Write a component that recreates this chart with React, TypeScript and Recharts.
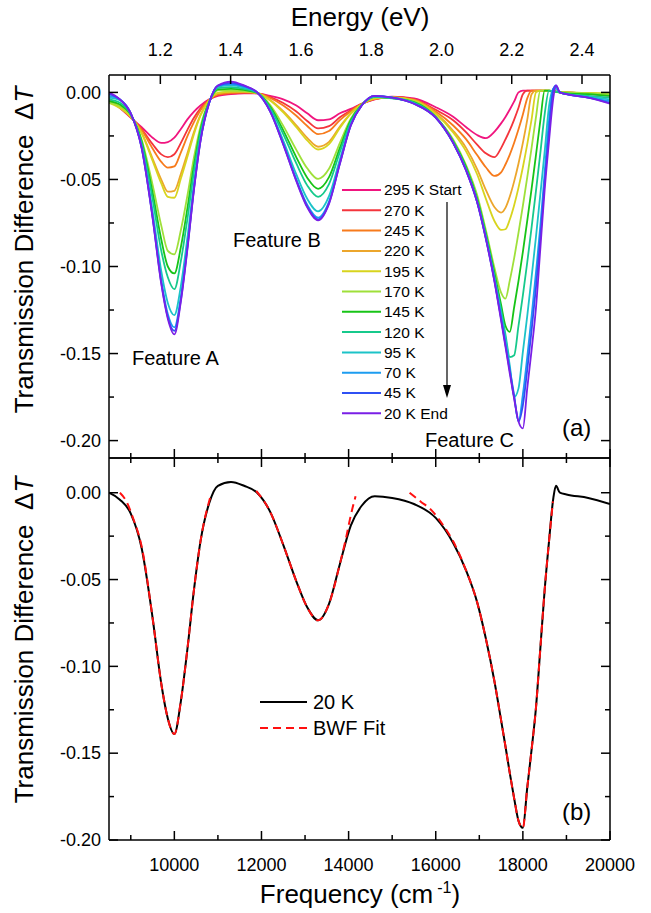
import React from 'react';
import { LineChart, Line, XAxis, YAxis } from 'recharts';

// frequency grid (cm^-1) shared by all temperature curves
const frequency = [
  8500, 8750, 9000, 9250, 9500, 9700, 9850, 10000, 10150, 10300, 10450, 10600, 10800, 11000,
  11300, 11600, 11900,
  12200, 12500, 12800, 13050, 13300, 13550, 13800, 14050, 14300, 14600,
  15000, 15500,
  16000, 16400, 16700, 16950, 17150, 17350, 17500, 17600, 17700, 17800, 17900, 18000, 18100,
  18200, 18300, 18400, 18500, 18600, 18700, 18760, 18850, 19000, 19500, 20000,
];

const dT295 = [
  -0.004, -0.009, -0.0145, -0.02, -0.026, -0.029, -0.0285, -0.026, -0.021, -0.0155, -0.011, -0.0075, -0.004, -0.002,
  -0.001, -0.0005, -0.0005,
  -0.002, -0.004, -0.0075, -0.012, -0.016, -0.0155, -0.012, -0.0095, -0.0065, -0.004,
  -0.0025, -0.0035,
  -0.0085, -0.014, -0.02, -0.0245, -0.0263, -0.0225, -0.0178, -0.0141, -0.0098, -0.0052, 0.0, 0.001, 0.001,
  0.001, 0.001, 0.001, 0.0008, 0.0008, 0.0005, 0.0005, 0.0, 0.0, -0.001, -0.002,
];
const dT270 = [
  -0.0037, -0.0086, -0.0143, -0.021, -0.0297, -0.0356, -0.0372, -0.0355, -0.029, -0.0215, -0.0146, -0.0092, -0.0042, -0.0015,
  -0.0006, -0.0003, -0.0005,
  -0.0027, -0.0061, -0.011, -0.0164, -0.0207, -0.0194, -0.0143, -0.0103, -0.0066, -0.0038,
  -0.0026, -0.004,
  -0.01, -0.016, -0.023, -0.03, -0.035, -0.0372, -0.032, -0.027, -0.0217, -0.0156, -0.0088, -0.001, 0.001,
  0.001, 0.001, 0.001, 0.001, 0.0008, 0.0008, 0.0005, 0.0003, 0.0, -0.0007, -0.0015,
];
const dT245 = [
  -0.0035, -0.0083, -0.0142, -0.0216, -0.0322, -0.0399, -0.0432, -0.0425, -0.0344, -0.0251, -0.0171, -0.0103, -0.0043, -0.0012,
  -0.0002, 0.0, -0.0004,
  -0.0032, -0.0075, -0.0134, -0.0193, -0.024, -0.0222, -0.0159, -0.0108, -0.0066, -0.0037,
  -0.0027, -0.0042,
  -0.011, -0.019, -0.027, -0.036, -0.043, -0.048, -0.0459, -0.0414, -0.0357, -0.0289, -0.0212, -0.0127, -0.0034,
  0.001, 0.001, 0.001, 0.001, 0.001, 0.0008, 0.0005, 0.0003, 0.0, -0.0005, -0.001,
];
const dT220 = [
  -0.005, -0.0085, -0.0139, -0.0231, -0.038, -0.0501, -0.057, -0.0565, -0.0468, -0.0349, -0.0227, -0.0129, -0.0045, -0.0004,
  0.0003, 0.0004, -0.0004,
  -0.0043, -0.0108, -0.0189, -0.0261, -0.0312, -0.0284, -0.0196, -0.012, -0.0068, -0.0035,
  -0.0028, -0.0045,
  -0.012, -0.022, -0.032, -0.044, -0.056, -0.066, -0.069, -0.0663, -0.0598, -0.0511, -0.0408, -0.029, -0.0158,
  -0.0011, 0.001, 0.001, 0.001, 0.001, 0.0008, 0.0005, 0.0003, 0.0, -0.0005, -0.001,
];
const dT195 = [
  -0.006, -0.009, -0.014, -0.0235, -0.0392, -0.0523, -0.06, -0.0605, -0.0495, -0.037, -0.024, -0.0134, -0.0046, -0.0003,
  0.0004, 0.0005, -0.0004,
  -0.0046, -0.0115, -0.02, -0.0276, -0.0328, -0.0297, -0.0204, -0.0122, -0.0068, -0.0034,
  -0.0029, -0.0047,
  -0.0125, -0.023, -0.034, -0.047, -0.061, -0.074, -0.079, -0.0786, -0.073, -0.0648, -0.0547, -0.043, -0.0299,
  -0.0155, 0.0, 0.001, 0.001, 0.001, 0.0008, 0.0005, 0.0003, 0.0, -0.0003, -0.0005,
];
const dT170 = [
  -0.006, -0.008, -0.013, -0.027, -0.053, -0.0765, -0.091, -0.093, -0.079, -0.0592, -0.0374, -0.0195, -0.0052, 0.0012,
  0.001, 0.0008, -0.0003,
  -0.0073, -0.0192, -0.033, -0.0436, -0.0497, -0.0439, -0.029, -0.0151, -0.0071, -0.0028,
  -0.0032, -0.0052,
  -0.014, -0.027, -0.042, -0.059, -0.079, -0.101, -0.115, -0.1185, -0.108, -0.0952, -0.0806, -0.0651, -0.0488,
  -0.0318, -0.0144, 0.001, 0.001, 0.001, 0.0005, 0.0003, 0.0, 0.0, -0.0005, -0.001,
];
const dT145 = [
  -0.005, -0.007, -0.0128, -0.0282, -0.0575, -0.0845, -0.1, -0.104, -0.0888, -0.0665, -0.0418, -0.0215, -0.0054, 0.0018,
  0.002, 0.0014, -0.0002,
  -0.0082, -0.0218, -0.0373, -0.049, -0.0554, -0.0487, -0.0319, -0.016, -0.0072, -0.0026,
  -0.0033, -0.0055,
  -0.014, -0.028, -0.043, -0.061, -0.081, -0.104, -0.122, -0.134, -0.1375, -0.1234, -0.1082, -0.0916, -0.0738,
  -0.0554, -0.0361, -0.0164, 0.001, 0.001, 0.0005, 0.0005, 0.0, -0.0005, -0.001, -0.002,
];
const dT120 = [
  -0.004, -0.006, -0.0126, -0.0292, -0.0612, -0.091, -0.1062, -0.113, -0.0968, -0.0726, -0.0455, -0.0232, -0.0055, 0.0024,
  0.003, 0.002, -0.0001,
  -0.0089, -0.0239, -0.0408, -0.0534, -0.06, -0.0527, -0.0342, -0.0168, -0.0073, -0.0025,
  -0.0034, -0.0058,
  -0.0142, -0.0285, -0.044, -0.062, -0.082, -0.106, -0.125, -0.139, -0.152, -0.151, -0.134, -0.1166, -0.0977,
  -0.0775, -0.0567, -0.035, -0.0126, 0.001, 0.0008, 0.0005, 0.0, -0.0008, -0.002, -0.003,
];
const dT95 = [
  -0.003, -0.0045, -0.0122, -0.0309, -0.0679, -0.1027, -0.1209, -0.1279, -0.1111, -0.0833, -0.052, -0.0262, -0.0058, 0.0033,
  0.004, 0.0028, 0.0,
  -0.0102, -0.0277, -0.0471, -0.0611, -0.0683, -0.0596, -0.0384, -0.0181, -0.0074, -0.0022,
  -0.0029, -0.0062,
  -0.0144, -0.0288, -0.0445, -0.0625, -0.083, -0.107, -0.127, -0.141, -0.157, -0.175, -0.17, -0.149, -0.1285,
  -0.1063, -0.0831, -0.0588, -0.034, -0.008, 0.002, 0.002, 0.0, -0.001, -0.0025, -0.004,
];
const dT70 = [
  -0.002, -0.0041, -0.0121, -0.0317, -0.0708, -0.1078, -0.1273, -0.135, -0.1173, -0.088, -0.0548, -0.0274, -0.0059, 0.0038,
  0.0046, 0.0032, 0.0,
  -0.0108, -0.0293, -0.0498, -0.0645, -0.0719, -0.0627, -0.0402, -0.0187, -0.0075, -0.0021,
  -0.003, -0.0064,
  -0.0145, -0.029, -0.045, -0.063, -0.0835, -0.108, -0.129, -0.144, -0.159, -0.174, -0.189, -0.1735, -0.152,
  -0.1287, -0.1035, -0.077, -0.046, -0.016, 0.002, 0.003, 0.0, -0.001, -0.003, -0.005,
];
const dT45 = [
  -0.001, -0.004, -0.012, -0.0319, -0.0716, -0.1093, -0.1291, -0.137, -0.1191, -0.0893, -0.0556, -0.0278, -0.006, 0.0039,
  0.0054, 0.0037, 0.0,
  -0.0109, -0.0298, -0.0506, -0.0655, -0.073, -0.0636, -0.0407, -0.0189, -0.0075, -0.002,
  -0.003, -0.0065,
  -0.0145, -0.029, -0.045, -0.063, -0.084, -0.1085, -0.13, -0.145, -0.16, -0.175, -0.189, -0.1797, -0.1594,
  -0.1367, -0.1121, -0.084, -0.051, -0.022, 0.002, 0.004, 0.0, -0.001, -0.003, -0.006,
];
const dT20 = [
  0.0, -0.004, -0.012, -0.032, -0.072, -0.11, -0.13, -0.139, -0.12, -0.09, -0.056, -0.028, -0.006, 0.004,
  0.0062, 0.004, 0.0,
  -0.011, -0.03, -0.051, -0.066, -0.0735, -0.064, -0.041, -0.019, -0.0075, -0.002,
  -0.003, -0.0065,
  -0.0145, -0.029, -0.045, -0.063, -0.084, -0.109, -0.131, -0.146, -0.1615, -0.176, -0.189, -0.193, -0.17,
  -0.148, -0.124, -0.09, -0.056, -0.028, -0.003, 0.004, 0.0, -0.001, -0.003, -0.0065,
];

const tempLabels = ['295 K Start', '270 K', '245 K', '220 K', '195 K', '170 K', '145 K', '120 K', '95 K', '70 K', '45 K', '20 K End'];
const tempKeys = ['t295', 't270', 't245', 't220', 't195', 't170', 't145', 't120', 't95', 't70', 't45', 't20'];
const tempColors = [
  '#f0157f', '#f4353c', '#f77b1c', '#eca62c', '#d8d41e', '#9fe03a',
  '#17c417', '#16c98c', '#1cc3c8', '#1d9df0', '#2f50f4', '#7a1fe6',
];
const tempSeries = [dT295, dT270, dT245, dT220, dT195, dT170, dT145, dT120, dT95, dT70, dT45, dT20];

// BWF fit segments (panel b)
const fitAFreq = [8750, 8900, 9050, 9250, 9500, 9700, 9850, 10000, 10150, 10300, 10450, 10600, 10820];
const fitAVals = [0.0, -0.005, -0.0145, -0.031, -0.072, -0.11, -0.13, -0.139, -0.12, -0.09, -0.056, -0.028, -0.003];
const fitBFreq = [11880, 12200, 12500, 12800, 13050, 13300, 13550, 13800, 13950, 14050, 14160];
const fitBVals = [0.001, -0.011, -0.03, -0.051, -0.066, -0.0735, -0.064, -0.041, -0.025, -0.013, -0.002];
const fitCFreq = [15400, 15650, 15900, 16150, 16400, 16700, 16950, 17150, 17350, 17500, 17600, 17700, 17800, 17900, 18000, 18100, 18200, 18300, 18400, 18500, 18600, 18690];
const fitCVals = [0.0, -0.005, -0.01, -0.018, -0.028, -0.045, -0.063, -0.084, -0.109, -0.131, -0.146, -0.1615, -0.176, -0.189, -0.193, -0.17, -0.148, -0.124, -0.09, -0.056, -0.028, -0.005];

// axis ticks
const energyTicksEv = [1.1, 1.2, 1.3, 1.4, 1.5, 1.6, 1.7, 1.8, 1.9, 2.0, 2.1, 2.2, 2.3, 2.4];
const freqTicks = [9000, 10000, 11000, 12000, 13000, 14000, 15000, 16000, 17000, 18000, 19000, 20000];
const yTicks = [0, -0.025, -0.05, -0.075, -0.1, -0.125, -0.15, -0.175, -0.2];

const EV_TO_CM = 8065.54;
const FONT = '"Liberation Sans", Arial, Helvetica, sans-serif';

const rows = frequency.map((f, i) => {
  const r: Record<string, number> = { f };
  tempKeys.forEach((k, j) => { r[k] = tempSeries[j][i]; });
  return r;
});
const toPoints = (fs: number[], vs: number[]) => fs.map((f, i) => ({ f, v: vs[i] }));
const fitA = toPoints(fitAFreq, fitAVals);
const fitB = toPoints(fitBFreq, fitBVals);
const fitC = toPoints(fitCFreq, fitCVals);
const energyTicks = energyTicksEv.map((e) => e * EV_TO_CM);

const axisStyle = { stroke: '#000', strokeWidth: 1.5 };
const isMajorY = (v: number) => Math.abs(v * 20 - Math.round(v * 20)) < 1e-6;
const isMajorX = (v: number) => v % 2000 === 0;

const LeftTick = (p: any) => {
  const v = p.payload.value;
  const major = isMajorY(v);
  return (
    <g>
      <line x1={p.x} y1={p.y} x2={p.x + (major ? 9 : 5)} y2={p.y} stroke="#000" strokeWidth={1.5} />
      {major && (
        <text x={p.x - 8} y={p.y} dy="0.35em" textAnchor="end" fontSize={18} fill="#000" fontFamily={FONT}>
          {v.toFixed(2)}
        </text>
      )}
    </g>
  );
};
const RightTick = (p: any) => {
  const major = isMajorY(p.payload.value);
  return <line x1={p.x - (major ? 9 : 5)} y1={p.y} x2={p.x} y2={p.y} stroke="#000" strokeWidth={1.5} />;
};
const UpTick = (p: any) => {
  const major = isMajorX(p.payload.value);
  return <line x1={p.x} y1={p.y} x2={p.x} y2={p.y - (major ? 9 : 5)} stroke="#000" strokeWidth={1.5} />;
};
const DownTick = (p: any) => {
  const major = isMajorX(p.payload.value);
  return <line x1={p.x} y1={p.y} x2={p.x} y2={p.y + (major ? 9 : 5)} stroke="#000" strokeWidth={1.5} />;
};
const FreqTick = (p: any) => {
  const v = p.payload.value;
  const major = isMajorX(v);
  return (
    <g>
      <line x1={p.x} y1={p.y} x2={p.x} y2={p.y - (major ? 9 : 5)} stroke="#000" strokeWidth={1.5} />
      {major && (
        <text x={p.x} y={p.y + 25} dy="0.35em" textAnchor="middle" fontSize={18} fill="#000" fontFamily={FONT}>
          {v}
        </text>
      )}
    </g>
  );
};
const EnergyTick = (p: any) => {
  const ev = Math.round((p.payload.value / EV_TO_CM) * 10) / 10;
  const major = Math.round(ev * 10) % 2 === 0;
  return (
    <g>
      <line x1={p.x} y1={p.y} x2={p.x} y2={p.y + (major ? 9 : 5)} stroke="#000" strokeWidth={1.5} />
      {major && (
        <text x={p.x} y={p.y - 25} dy="0.35em" textAnchor="middle" fontSize={18} fill="#000" fontFamily={FONT}>
          {ev.toFixed(1)}
        </text>
      )}
    </g>
  );
};

// axes need a non-zero size to be drawn, so they get 1px and the margins shrink by 1
const xCommon = {
  type: 'number' as const,
  dataKey: 'f',
  domain: [8500, 20000],
  allowDataOverflow: true,
  height: 1,
  tickSize: 0,
  tickMargin: 0,
  tickLine: false,
  interval: 0 as const,
  axisLine: axisStyle,
};
const yCommon = {
  type: 'number' as const,
  allowDataOverflow: true,
  width: 1,
  tickSize: 0,
  tickMargin: 0,
  tickLine: false,
  interval: 0 as const,
  ticks: yTicks,
  axisLine: axisStyle,
};

const YTitle = ({ cx, cy }: { cx: number; cy: number }) => (
  <text x={cx} y={cy} dy="0.35em" textAnchor="middle" fontSize={26} transform={`rotate(-90 ${cx} ${cy})`}>
    Transmission Difference{'\u00a0\u00a0'}Δ<tspan fontStyle="italic">T</tspan>
  </text>
);

export default function App() {
  return (
    <div style={{ position: 'absolute', left: 0, top: 0, width: 651, height: 913, background: '#fff', fontFamily: FONT }}>
      {/* panel (a): plot box x 109-610, y 75-458 */}
      <div style={{ position: 'absolute', left: 0, top: 0 }}>
        <LineChart width={651} height={913} data={rows} margin={{ top: 74, right: 40, bottom: 454, left: 108 }}>
          <XAxis {...xCommon} xAxisId="b" orientation="bottom" ticks={freqTicks} tick={UpTick} />
          <XAxis {...xCommon} xAxisId="t" orientation="top" ticks={energyTicks} tick={EnergyTick} />
          <YAxis {...yCommon} yAxisId="l" orientation="left" domain={[-0.21, 0.01]} tick={LeftTick} />
          <YAxis {...yCommon} yAxisId="r" orientation="right" domain={[-0.21, 0.01]} tick={RightTick} />
          {tempKeys.map((k, i) => (
            <Line
              key={k}
              xAxisId="b"
              yAxisId="l"
              type="monotone"
              dataKey={k}
              stroke={tempColors[i]}
              strokeWidth={1.8}
              dot={false}
              isAnimationActive={false}
            />
          ))}
        </LineChart>
      </div>
      {/* panel (b): plot box x 109-610, y 458-840 */}
      <div style={{ position: 'absolute', left: 0, top: 0 }}>
        <LineChart width={651} height={913} data={rows} margin={{ top: 457, right: 40, bottom: 72, left: 108 }}>
          <XAxis {...xCommon} xAxisId="b" orientation="bottom" ticks={freqTicks} tick={FreqTick} />
          <XAxis {...xCommon} xAxisId="t" orientation="top" ticks={freqTicks} tick={DownTick} />
          <YAxis {...yCommon} yAxisId="l" orientation="left" domain={[-0.2, 0.02]} tick={LeftTick} />
          <YAxis {...yCommon} yAxisId="r" orientation="right" domain={[-0.2, 0.02]} tick={RightTick} />
          <Line xAxisId="b" yAxisId="l" type="monotone" dataKey="t20" stroke="#000" strokeWidth={2} dot={false} isAnimationActive={false} />
          {[fitA, fitB, fitC].map((d, i) => (
            <Line
              key={i}
              data={d}
              xAxisId="b"
              yAxisId="l"
              type="monotone"
              dataKey="v"
              stroke="#ff1010"
              strokeWidth={2}
              strokeDasharray="8 5"
              dot={false}
              isAnimationActive={false}
            />
          ))}
        </LineChart>
      </div>
      {/* titles, annotations and legends */}
      <svg width={651} height={913} style={{ position: 'absolute', left: 0, top: 0, pointerEvents: 'none' }} fontFamily={FONT} fill="#000">
        <text x={360} y={17} dy="0.35em" textAnchor="middle" fontSize={26}>Energy (eV)</text>
        <text x={360} y={894} dy="0.35em" textAnchor="middle" fontSize={26}>
          Frequency (cm<tspan dx={4} dy={-10} fontSize={16}>-1</tspan><tspan dy={10}>)</tspan>
        </text>
        <YTitle cx={24} cy={250} />
        <YTitle cx={24} cy={640} />
        <text x={132} y={365} fontSize={20}>Feature A</text>
        <text x={233} y={247} fontSize={20}>Feature B</text>
        <text x={425} y={447} fontSize={20}>Feature C</text>
        <text x={562} y={436} fontSize={24}>(a)</text>
        <text x={562} y={820} fontSize={24}>(b)</text>
        {tempLabels.map((t, i) => (
          <g key={t}>
            <line x1={342} x2={381} y1={190 + i * 20.3} y2={190 + i * 20.3} stroke={tempColors[i]} strokeWidth={2} />
            <text x={384} y={190 + i * 20.3} dy="0.35em" fontSize={15.5}>{t}</text>
          </g>
        ))}
        <line x1={447} x2={447} y1={202} y2={387} stroke="#000" strokeWidth={1.2} />
        <polygon points="443,385 451,385 447,398" fill="#000" />
        <line x1={260} x2={307} y1={702} y2={702} stroke="#000" strokeWidth={2} />
        <text x={313} y={702} dy="0.35em" fontSize={20}>20 K</text>
        <line x1={260} x2={307} y1={728} y2={728} stroke="#ff1010" strokeWidth={2} strokeDasharray="8 5" />
        <text x={313} y={728} dy="0.35em" fontSize={20}>BWF Fit</text>
      </svg>
    </div>
  );
}
